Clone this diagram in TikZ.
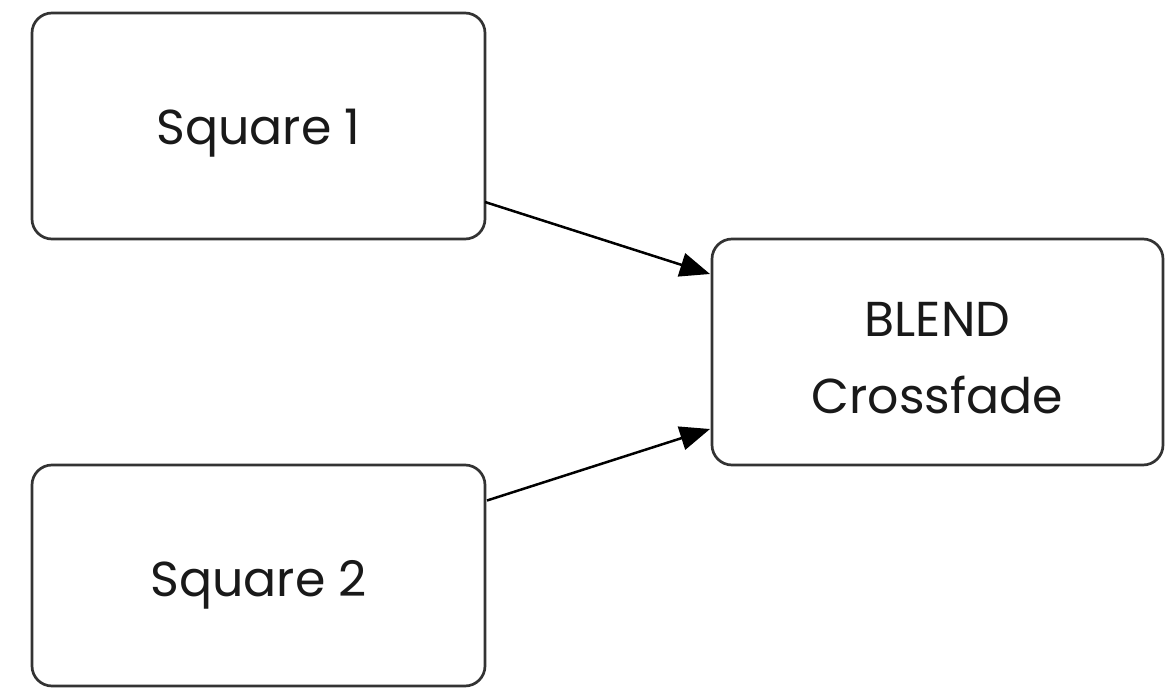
\documentclass[tikz,border=0pt]{standalone}
\usepackage{fontspec}
\setmainfont{Poppins}
\usetikzlibrary{arrows.meta}
\begin{document}
\begin{tikzpicture}[x=1pt,y=-1pt,
  box/.style={draw=black!80, line width=2.7pt, rounded corners=20pt, fill=white,
    inner sep=0pt, outer sep=0pt},
  label/.style={font=\fontsize{49}{77}\selectfont, align=center, text=black!90},
  flow/.style={line width=2.5pt, -{Triangle[length=30pt,width=24pt]}}]
  \useasboundingbox (0,0) rectangle (1173,688);
  % boxes
  \node[box, minimum width=453pt, minimum height=226pt] (sq1) at (258.5,126) {};
  \node[box, minimum width=453pt, minimum height=221pt] (sq2) at (258.5,575.5) {};
  \node[box, minimum width=451pt, minimum height=226pt] (blend) at (937.5,352) {};
  % labels
  \node[label] (sq1text) at (258.5,133) {Square 1};
  \node[label] (sq2text) at (258.5,585) {Square 2};
  \node[label] (blendtext) at (937.5,358) {BLEND\\Crossfade};
  % connectors, leaving and entering the box sides off centre
  % (shifts are on the page, where up is positive)
  \draw[flow] ([yshift=-76pt]sq1.east) -- ([xshift=-2pt,yshift=78pt]blend.west);
  \draw[flow] ([xshift=2pt,yshift=75pt]sq2.east) -- ([xshift=-2pt,yshift=-77pt]blend.west);
\end{tikzpicture}
\end{document}
